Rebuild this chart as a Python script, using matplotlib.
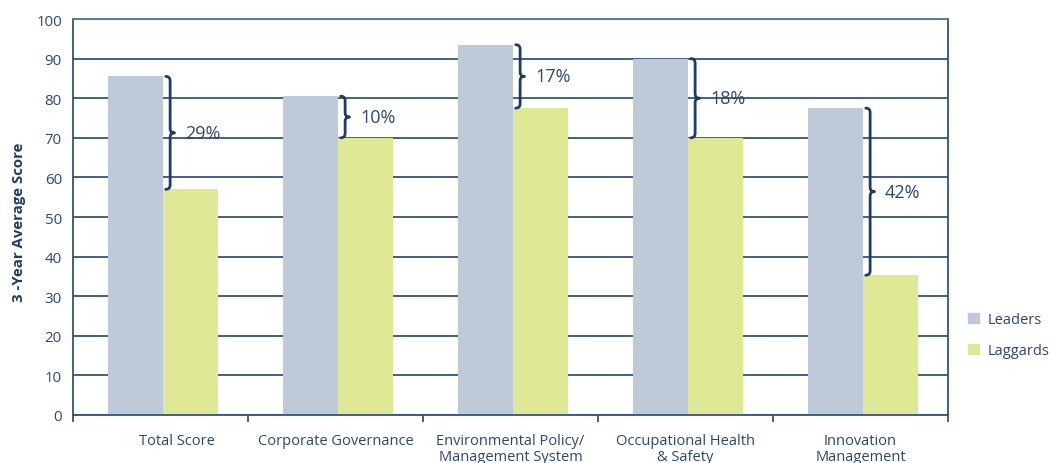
import matplotlib.pyplot as plt
import matplotlib.transforms as mtransforms
from matplotlib.patches import Patch, PathPatch
from matplotlib.path import Path
import numpy as np

# data
categories = ['Total Score', 'Corporate Governance', 'Environmental Policy/\nManagement System',
              'Occupational Health\n& Safety', 'Innovation\nManagement']
leaders = [85.5, 80.5, 93.5, 90.0, 77.5]
laggards = [57.0, 70.0, 77.5, 70.0, 35.3]
gaps = ['29%', '10%', '17%', '18%', '42%']

navy = '#1f3b6b'
text_col = '#2b4672'
grid_col = '#34537f'
c_lead = '#bfcad8'
c_lag = '#dfe995'

plt.rcParams['font.family'] = ['Open Sans', 'DejaVu Sans']

fig = plt.figure(figsize=(10.51, 4.64), dpi=100)
ax = fig.add_axes([73/1051, 1 - 416/464, (948 - 73)/1051, (416 - 20)/464])

x = np.arange(len(categories))
w = 0.315
ax.bar(x - 0.143, leaders, width=w, color=c_lead, zorder=2, label='Leaders')
ax.bar(x + 0.172, laggards, width=w, color=c_lag, zorder=2, label='Laggards')

ax.set_xlim(-0.5, len(categories) - 0.5)
ax.set_ylim(0, 100)
ax.set_yticks(range(0, 101, 10))
ax.yaxis.grid(True, color=grid_col, lw=1.3, zorder=0)
ax.set_axisbelow(True)

for s in ax.spines.values():
    s.set_color(grid_col)
    s.set_linewidth(1.3)
ax.spines['top'].set_color('#5a7599')
ax.spines['left'].set_bounds(-1.5, 100)
ax.spines['right'].set_bounds(-1.5, 100)
ax.spines['bottom'].set_zorder(3)

ax.tick_params(axis='y', length=0, pad=8, labelsize=10.8, labelcolor=text_col)
ax.set_xticks(x)
ax.set_xticklabels(categories)
ax.tick_params(axis='x', which='major', length=0, pad=13, labelsize=10.5, labelcolor=text_col)
ax.set_xticks(np.arange(0.5, len(categories) - 0.5, 1), minor=True)
ax.tick_params(axis='x', which='minor', length=5, width=1.3, color=grid_col, direction='out')
for lab in ax.get_xticklabels():
    lab.set_verticalalignment('top')
    lab.set_linespacing(1.1)
# first label sits a bit right of its group
first = ax.get_xticklabels()[0]
first.set_transform(first.get_transform() +
                    mtransforms.ScaledTranslation(16/100, 0, fig.dpi_scale_trans))

ax.set_ylabel('3 -Year Average Score', fontsize=10.8, fontweight='bold', color=navy)
ax.yaxis.set_label_coords(-0.054, 0.49)


def brace(ax, xc, y_top, y_bot, hw=0.025, r=1.1):
    ym = (y_top + y_bot) / 2
    verts = [(xc - hw, y_top), (xc, y_top), (xc, y_top - r),
             (xc, ym + r), (xc, ym), (xc + hw, ym),
             (xc, ym), (xc, ym - r),
             (xc, y_bot + r), (xc, y_bot), (xc - hw, y_bot)]
    codes = [Path.MOVETO, Path.CURVE3, Path.CURVE3,
             Path.LINETO, Path.CURVE3, Path.CURVE3,
             Path.CURVE3, Path.CURVE3,
             Path.LINETO, Path.CURVE3, Path.CURVE3]
    ax.add_patch(PathPatch(Path(verts, codes), fill=False, ec=navy, lw=2.0,
                           zorder=4, capstyle='round', joinstyle='round'))
    return ym


for i in range(len(categories)):
    bx = x[i] + 0.055
    ym = brace(ax, bx, leaders[i], laggards[i])
    ax.text(bx + 0.085, ym, gaps[i], fontsize=13, color=text_col,
            va='center', ha='left', zorder=5)

handles = [Patch(color=c_lead), Patch(color=c_lag)]
fig.legend(handles, ['Leaders', 'Laggards'], loc='center left',
           bbox_to_anchor=(955/1051, 1 - 336/464), frameon=False,
           handlelength=0.75, handleheight=0.75, handletextpad=0.6,
           labelspacing=1.1, fontsize=10.5, labelcolor=text_col)

fig.savefig('out.png', dpi=100)
